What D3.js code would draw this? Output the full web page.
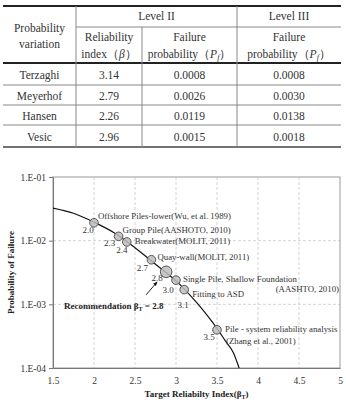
<!DOCTYPE html>
<html>
<head>
<meta charset="utf-8">
<script src="https://cdn.jsdelivr.net/npm/d3@7"></script>
<style>
  body { margin: 0; background: #fff; }
  svg { display: block; font-family: "Liberation Serif", "Times New Roman", serif; }
</style>
</head>
<body>
<svg id="chart" width="346" height="400"></svg>
<script>
// ---- table data ----
const methods = ['Terzaghi', 'Meyerhof', 'Hansen', 'Vesic'];
const betaLevel2 = ['3.14', '2.79', '2.26', '2.96'];
const pfLevel2 = ['0.0008', '0.0026', '0.0119', '0.0015'];
const pfLevel3 = ['0.0008', '0.0030', '0.0138', '0.0018'];

// ---- chart data ----
const curveBeta = [1.5, 1.75, 2.0, 2.25, 2.5, 2.75, 3.0, 3.25, 3.5, 3.6, 3.7, 3.77];
const curvePf = [0.0324, 0.0269, 0.0195, 0.0132, 0.00776, 0.00427, 0.00234, 0.00107, 0.000417, 0.000269, 0.000174, 0.0001];
const pointBeta = [2.0, 2.3, 2.4, 2.7, 2.88, 3.0, 3.1, 3.5];
const pointPf = [0.0191, 0.0117, 0.00955, 0.00501, 0.00324, 0.0024, 0.0017, 0.000398];
const pointValue = ['2.0', '2.3', '2.4', '2.7', '2.8', '3.0', '3.1', '3.5'];
const pointName = [
  ['Offshore Piles-lower(Wu, et al. 1989)'],
  ['Group Pile(AASHOTO, 2010)'],
  ['Breakwater(MOLIT, 2011)'],
  ['Quay-wall(MOLIT, 2011)'],
  [],
  ['Single Pile, Shallow Foundation'],
  ['Fitting to ASD'],
  ['Pile - system reliability analysis', '(Zhang et al., 2001)']
];
const xTicks = [1.5, 2, 2.5, 3, 3.5, 4, 4.5, 5];
const yTicks = [1e-4, 1e-3, 1e-2, 1e-1];
const yTickLabels = ['1.E-04', '1.E-03', '1.E-02', '1.E-01'];

const svg = d3.select('#chart');
const ink = '#333';

// ---------------- table ----------------
const table = svg.append('g');
const colX = [3, 76, 142, 237, 341];
const rowY = [6, 27, 63, 85, 105, 125, 147];

const hline = (x1, x2, y, w, c) => table.append('line')
  .attr('x1', x1).attr('x2', x2).attr('y1', y).attr('y2', y)
  .attr('stroke', c).attr('stroke-width', w);
const vline = (x, y1, y2) => table.append('line')
  .attr('x1', x).attr('x2', x).attr('y1', y1).attr('y2', y2)
  .attr('stroke', '#888').attr('stroke-width', 1);

hline(colX[0], colX[4], rowY[0], 2, '#222');
hline(colX[1], colX[4], rowY[1], 1, '#888');
hline(colX[0], colX[4], rowY[2], 2.2, '#222');
hline(colX[0], colX[4], rowY[3], 1, '#888');
hline(colX[0], colX[4], rowY[4], 1, '#888');
hline(colX[0], colX[4], rowY[5], 1, '#888');
hline(colX[0], colX[4], rowY[6], 1.5, '#444');
vline(colX[1], rowY[0], rowY[6]);
vline(colX[2], rowY[1], rowY[6]);
vline(colX[3], rowY[0], rowY[6]);

const cell = (x, y, txt) => table.append('text')
  .attr('x', x).attr('y', y)
  .attr('text-anchor', 'middle').attr('dominant-baseline', 'central')
  .attr('fill', ink).attr('font-size', 11.5)
  .text(txt);

cell((colX[0] + colX[1]) / 2, 28, 'Probability');
cell((colX[0] + colX[1]) / 2, 44, 'variation');
cell((colX[1] + colX[3]) / 2, 16, 'Level  II');
cell((colX[3] + colX[4]) / 2, 16, 'Level  III');
cell((colX[1] + colX[2]) / 2, 37, 'Reliability');
cell((colX[2] + colX[3]) / 2, 37, 'Failure');
cell((colX[3] + colX[4]) / 2, 37, 'Failure');

const betaHead = cell((colX[1] + colX[2]) / 2, 54, null);
betaHead.append('tspan').text('index（');
betaHead.append('tspan').attr('font-style', 'italic').text('β');
betaHead.append('tspan').text('）');

[(colX[2] + colX[3]) / 2, (colX[3] + colX[4]) / 2].forEach(cx => {
  const t = cell(cx, 54, null);
  t.append('tspan').text('probability（');
  t.append('tspan').attr('font-style', 'italic').text('P');
  t.append('tspan').attr('font-style', 'italic').attr('font-size', 8).attr('dy', 3).text('f');
  t.append('tspan').attr('dy', -3).text('）');
});

methods.forEach((m, i) => {
  const cy = (rowY[i + 2] + rowY[i + 3]) / 2 + 0.5;
  cell((colX[0] + colX[1]) / 2, cy, m);
  cell((colX[1] + colX[2]) / 2, cy, betaLevel2[i]);
  cell((colX[2] + colX[3]) / 2, cy, pfLevel2[i]);
  cell((colX[3] + colX[4]) / 2, cy, pfLevel3[i]);
});

// ---------------- chart ----------------
const plot = { left: 53, right: 340, top: 177, bottom: 368 };
const x = d3.scaleLinear().domain([1.5, 5]).range([plot.left, plot.right]);
const y = d3.scaleLog().domain([1e-4, 1e-1]).range([plot.bottom, plot.top]);

const chart = svg.append('g');

// grid
chart.append('g').selectAll('line')
  .data(xTicks.slice(1, -1))
  .join('line')
  .attr('x1', d => x(d)).attr('x2', d => x(d))
  .attr('y1', plot.top).attr('y2', plot.bottom)
  .attr('stroke', '#d4d4d4').attr('stroke-dasharray', '3,2');
chart.append('g').selectAll('line')
  .data(yTicks.slice(1, -1))
  .join('line')
  .attr('x1', plot.left).attr('x2', plot.right)
  .attr('y1', d => y(d)).attr('y2', d => y(d))
  .attr('stroke', '#d4d4d4').attr('stroke-dasharray', '3,2');

// frame
chart.append('rect')
  .attr('x', plot.left).attr('y', plot.top)
  .attr('width', plot.right - plot.left).attr('height', plot.bottom - plot.top)
  .attr('fill', 'none').attr('stroke', '#999');

// axes
const yAxis = chart.append('g')
  .attr('transform', `translate(${plot.left},0)`)
  .call(d3.axisLeft(y).tickValues(yTicks).tickFormat((d, i) => yTickLabels[i]).tickSize(4).tickPadding(3));
const xAxis = chart.append('g')
  .attr('transform', `translate(0,${plot.bottom})`)
  .call(d3.axisBottom(x).tickValues(xTicks).tickFormat(d3.format('')).tickSize(0).tickPadding(9));
[yAxis, xAxis].forEach(a => {
  a.select('.domain').attr('stroke', '#777');
  a.selectAll('.tick line').attr('stroke', '#777');
  a.selectAll('text').attr('font-family', '"Liberation Serif", serif').attr('font-size', 9.5).attr('fill', ink);
});

// curve
const curveData = curveBeta.map((b, i) => [b, curvePf[i]]);
chart.append('path')
  .datum(curveData)
  .attr('d', d3.line().x(d => x(d[0])).y(d => y(d[1])).curve(d3.curveMonotoneX))
  .attr('fill', 'none').attr('stroke', '#111').attr('stroke-width', 1.2);

// markers
const pts = pointBeta.map((b, i) => ({ b, pf: pointPf[i], v: pointValue[i], name: pointName[i], i }));
chart.append('g').selectAll('circle')
  .data(pts)
  .join('circle')
  .attr('cx', d => x(d.b)).attr('cy', d => y(d.pf))
  .attr('r', d => d.v === '2.8' ? 5.8 : 4.3)
  .attr('fill', '#bdbdbd').attr('fill-opacity', 0.85)
  .attr('stroke', '#555').attr('stroke-width', 1);

// value labels (offsets from the marker)
const valueOff = [[-6, 7], [-9, 7], [-5, 8], [-9, 8], [-9, 6], [-8, 10], [-1, 15], [-8, 7]];
chart.append('g').selectAll('text')
  .data(pts)
  .join('text')
  .attr('x', d => x(d.b) + valueOff[d.i][0])
  .attr('y', d => y(d.pf) + valueOff[d.i][1])
  .attr('text-anchor', 'middle').attr('dominant-baseline', 'central')
  .attr('font-size', 9).attr('fill', ink)
  .text(d => d.v);

// name labels
const nameOff = [[4, -7], [4, -6], [8, -1], [6, -3], [0, 0], [7, -1], [8, 4], [8, -1]];
pts.forEach(d => {
  d.name.forEach((line, k) => {
    chart.append('text')
      .attr('x', x(d.b) + nameOff[d.i][0] + k)
      .attr('y', y(d.pf) + nameOff[d.i][1] + k * 12)
      .attr('dominant-baseline', 'central')
      .attr('font-size', 8.8).attr('fill', ink)
      .text(line);
  });
});
// second line of the single pile note, right aligned in the plot
chart.append('text')
  .attr('x', plot.right - 1).attr('y', y(pointPf[5]) + 9)
  .attr('text-anchor', 'end').attr('dominant-baseline', 'central')
  .attr('font-size', 8.8).attr('fill', ink)
  .text('(AASHTO, 2010)');

// recommendation note + arrow
svg.append('defs').append('marker')
  .attr('id', 'arrow').attr('viewBox', '0 0 10 10')
  .attr('refX', 9).attr('refY', 5)
  .attr('markerWidth', 5).attr('markerHeight', 5)
  .attr('orient', 'auto')
  .append('path').attr('d', 'M0,1L10,5L0,9Z').attr('fill', '#111');
const rec = pts[4];
chart.append('line')
  .attr('x1', x(rec.b) - 20).attr('y1', y(rec.pf) + 23)
  .attr('x2', x(rec.b) - 9).attr('y2', y(rec.pf) + 10)
  .attr('stroke', '#111').attr('stroke-width', 0.9)
  .attr('marker-end', 'url(#arrow)');
const recText = chart.append('text')
  .attr('x', 64).attr('y', y(rec.pf) + 34)
  .attr('dominant-baseline', 'central')
  .attr('font-size', 9).attr('font-weight', 'bold').attr('fill', '#222');
recText.append('tspan').text('Recommendation β');
recText.append('tspan').attr('font-size', 6).attr('dy', 3).text('T');
recText.append('tspan').attr('dy', -3).text(' = 2.8');

// axis titles
chart.append('text')
  .attr('transform', `translate(11,${(plot.top + plot.bottom) / 2}) rotate(-90)`)
  .attr('text-anchor', 'middle').attr('dominant-baseline', 'central')
  .attr('font-size', 9).attr('font-weight', 'bold').attr('fill', '#222')
  .text('Probability of Failure');
const xt = chart.append('text')
  .attr('x', (plot.left + plot.right) / 2).attr('y', 394)
  .attr('text-anchor', 'middle').attr('dominant-baseline', 'central')
  .attr('font-size', 9).attr('font-weight', 'bold').attr('fill', '#222');
xt.append('tspan').text('Target Reliabilty Index(β');
xt.append('tspan').attr('font-size', 6).attr('dy', 3).text('T');
xt.append('tspan').attr('dy', -3).text(')');
</script>
</body>
</html>
